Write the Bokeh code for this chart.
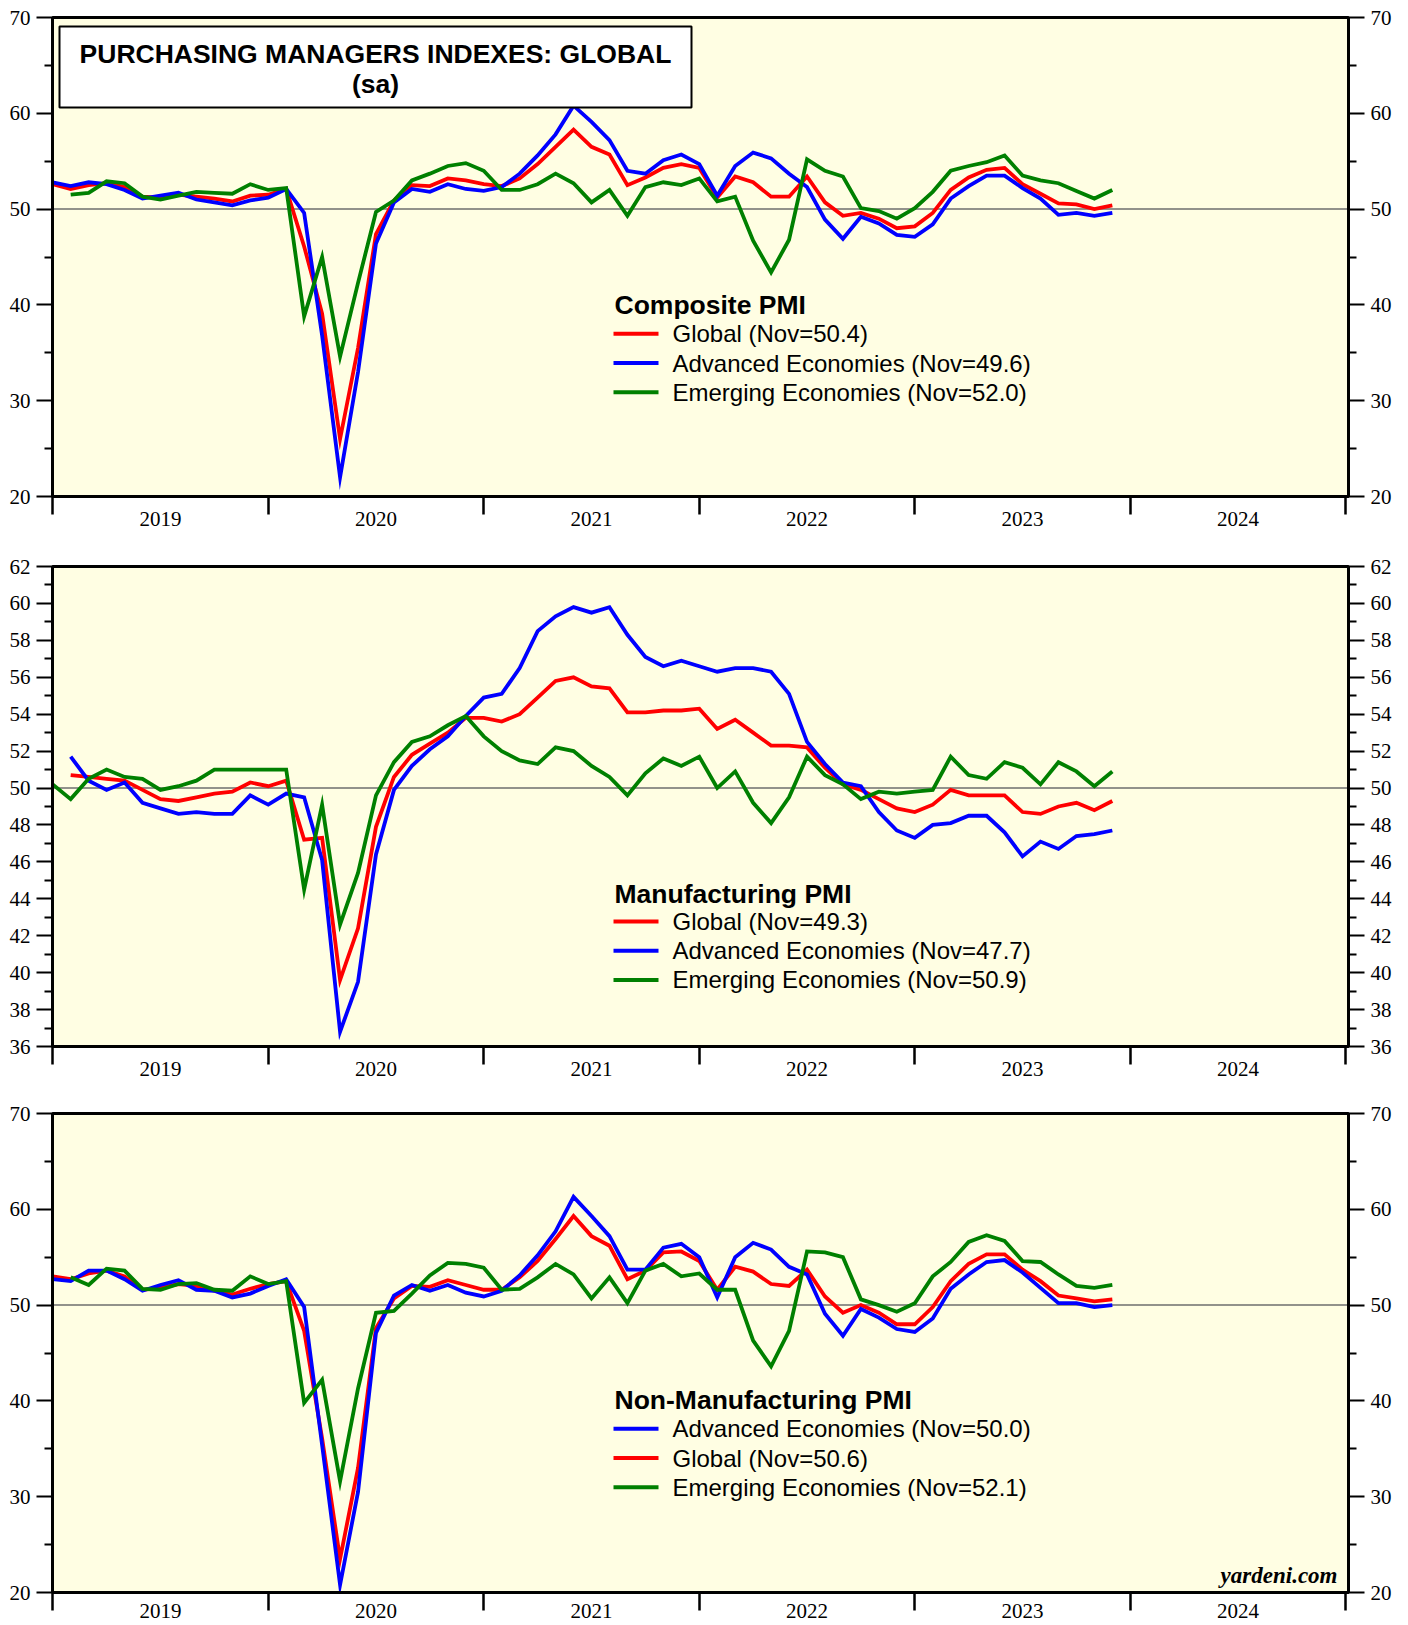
import numpy as np
import pandas as pd
from bokeh.plotting import figure
from bokeh.models import (Range1d, LinearAxis, FixedTicker, Span, Label,
                          BoxAnnotation)
from bokeh.layouts import column
from bokeh.embed import file_html
from bokeh.resources import INLINE

# ---------------- data ----------------
months = pd.period_range("2018-12", "2023-11", freq="M")
x_months = [m.year + m.month / 12.0 for m in months]   # month-end, decimal years

N = None
comp_global = [52.6, 52.1, 52.5, 52.7, 52.3, 51.3, 51.2, 51.5, 51.3, 51.1, 50.8, 51.4,
               51.5, 52.1, 46.1, 39.1, 26.0, 35.5, 47.4, 50.9, 52.5, 52.4, 53.2, 53.0,
               52.6, 52.4, 53.2, 54.7, 56.5, 58.3, 56.5, 55.7, 52.5, 53.3, 54.3, 54.7,
               54.3, 51.2, 53.4, 52.8, 51.3, 51.3, 53.4, 50.7, 49.3, 49.6, 49.0, 48.0,
               48.2, 49.6, 52.0, 53.3, 54.1, 54.3, 52.6, 51.6, 50.6, 50.5, 50.0, 50.4]
comp_adv = [52.8, 52.4, 52.8, 52.6, 52.0, 51.1, 51.4, 51.7, 51.0, 50.7, 50.4, 50.9,
            51.2, 52.1, 49.6, 36.8, 22.0, 33.0, 46.4, 50.7, 52.1, 51.8, 52.6, 52.1,
            51.9, 52.3, 53.7, 55.6, 57.8, 60.8, 59.1, 57.2, 54.0, 53.7, 55.1, 55.7,
            54.7, 51.4, 54.5, 55.9, 55.3, 53.7, 52.3, 48.9, 46.9, 49.2, 48.5, 47.3,
            47.1, 48.4, 51.1, 52.4, 53.5, 53.5, 52.2, 51.1, 49.4, 49.6, 49.3, 49.6]
comp_emg = [N, 51.5, 51.7, 52.9, 52.7, 51.3, 51.0, 51.4, 51.8, 51.7, 51.6, 52.6,
            52.0, 52.2, 38.8, 45.0, 34.6, 42.3, 49.7, 50.9, 53.0, 53.7, 54.5, 54.8,
            54.0, 52.0, 52.0, 52.6, 53.7, 52.7, 50.7, 52.0, 49.3, 52.3, 52.8, 52.5,
            53.2, 50.8, 51.3, 46.7, 43.4, 46.8, 55.2, 54.0, 53.4, 50.1, 49.8, 49.0,
            50.1, 51.8, 54.0, 54.5, 54.9, 55.6, 53.5, 53.0, 52.7, 51.9, 51.1, 52.0]

mfg_global = [N, 50.7, 50.6, 50.5, 50.4, 49.9, 49.4, 49.3, 49.5, 49.7, 49.8, 50.3,
              50.1, 50.4, 47.2, 47.3, 39.6, 42.4, 47.9, 50.6, 51.8, 52.4, 53.0, 53.8,
              53.8, 53.6, 54.0, 54.9, 55.8, 56.0, 55.5, 55.4, 54.1, 54.1, 54.2, 54.2,
              54.3, 53.2, 53.7, 53.0, 52.3, 52.3, 52.2, 51.1, 50.2, 49.9, 49.4, 48.9,
              48.7, 49.1, 49.9, 49.6, 49.6, 49.6, 48.7, 48.6, 49.0, 49.2, 48.8, 49.3]
mfg_adv = [N, 51.7, 50.4, 49.9, 50.3, 49.2, 48.9, 48.6, 48.7, 48.6, 48.6, 49.6,
           49.1, 49.7, 49.5, 46.1, 36.8, 39.5, 46.4, 49.9, 51.2, 52.1, 52.8, 53.9,
           54.9, 55.1, 56.5, 58.5, 59.3, 59.8, 59.5, 59.8, 58.3, 57.1, 56.6, 56.9,
           56.6, 56.3, 56.5, 56.5, 56.3, 55.1, 52.5, 51.3, 50.3, 50.1, 48.7, 47.7,
           47.3, 48.0, 48.1, 48.5, 48.5, 47.6, 46.3, 47.1, 46.7, 47.4, 47.5, 47.7]
mfg_emg = [50.2, 49.4, 50.5, 51.0, 50.6, 50.5, 49.9, 50.1, 50.4, 51.0, 51.0, 51.0,
           51.0, 51.0, 44.5, 49.1, 42.6, 45.4, 49.6, 51.4, 52.5, 52.8, 53.4, 53.9,
           52.8, 52.0, 51.5, 51.3, 52.2, 52.0, 51.2, 50.6, 49.6, 50.8, 51.6, 51.2,
           51.7, 50.0, 50.9, 49.2, 48.1, 49.5, 51.7, 50.7, 50.2, 49.4, 49.8, 49.7,
           49.8, 49.9, 51.7, 50.7, 50.5, 51.4, 51.1, 50.2, 51.4, 50.9, 50.1, 50.9]

nm_global = [53.0, 52.7, 53.3, 53.6, 53.0, 51.6, 51.8, 52.2, 52.0, 51.5, 51.1, 51.7,
             52.2, 52.5, 47.3, 36.1, 23.5, 33.0, 47.6, 50.7, 52.0, 51.9, 52.6, 52.1,
             51.6, 51.6, 52.9, 54.6, 56.9, 59.3, 57.2, 56.2, 52.7, 53.6, 55.5, 55.6,
             54.6, 51.6, 54.0, 53.5, 52.2, 52.0, 53.7, 50.9, 49.2, 50.0, 49.2, 48.0,
             48.0, 49.8, 52.5, 54.3, 55.3, 55.3, 53.7, 52.5, 51.0, 50.7, 50.4, 50.6]
nm_adv = [52.7, 52.5, 53.6, 53.6, 52.7, 51.5, 52.1, 52.6, 51.6, 51.5, 50.8, 51.2,
          52.0, 52.7, 49.8, 35.4, 20.8, 30.5, 47.1, 51.0, 52.1, 51.5, 52.1, 51.3,
          50.9, 51.5, 53.1, 55.2, 57.7, 61.3, 59.3, 57.2, 53.7, 53.7, 56.0, 56.4,
          55.0, 50.8, 55.0, 56.5, 55.8, 54.0, 53.2, 49.1, 46.8, 49.6, 48.7, 47.5,
          47.2, 48.6, 51.7, 53.2, 54.5, 54.7, 53.4, 51.8, 50.2, 50.2, 49.8, 50.0]
nm_emg = [N, 52.9, 52.1, 53.8, 53.6, 51.7, 51.6, 52.2, 52.3, 51.6, 51.5, 53.0,
          52.2, 52.5, 39.8, 42.2, 31.6, 41.3, 49.2, 49.4, 51.2, 53.1, 54.4, 54.3,
          53.9, 51.6, 51.7, 52.9, 54.3, 53.2, 50.7, 52.9, 50.2, 53.6, 54.3, 53.0,
          53.3, 51.6, 51.6, 46.3, 43.6, 47.3, 55.6, 55.5, 55.0, 50.6, 50.0, 49.3,
          50.2, 53.0, 54.5, 56.6, 57.3, 56.7, 54.6, 54.5, 53.2, 52.0, 51.8, 52.1]

year_ticks = [2019, 2020, 2021, 2022, 2023, 2024, 2025]
year_labels = ["2019", "2020", "2021", "2022", "2023", "2024"]
y_major_50 = [20, 30, 40, 50, 60, 70]
y_minor_50 = [25, 35, 45, 55, 65]
y_major_mfg = [36, 38, 40, 42, 44, 46, 48, 50, 52, 54, 56, 58, 60, 62]
y_minor_mfg = [37, 39, 41, 43, 45, 47, 49, 51, 53, 55, 57, 59, 61]

TITLE_1 = "PURCHASING MANAGERS INDEXES: GLOBAL"
TITLE_2 = "(sa)"

# ---------------- style ----------------
RED, BLUE, GREEN = "#FF0000", "#0000FF", "#008000"
BG = "#FFFEE3"
SERIF = "Liberation Serif"
SANS = "Liberation Sans"
X0, X1 = 2018.999, 2025.0125
FIG_W = 1400


def make_panel(height, b_top, b_bottom, y_lo, y_hi, major, minor, x_standoff=-3):
    p = figure(width=FIG_W, height=height, x_range=Range1d(X0, X1),
               y_range=Range1d(y_lo, y_hi), output_backend="svg",
               toolbar_location=None, title=None,
               min_border_left=52, min_border_right=52,
               min_border_top=b_top, min_border_bottom=b_bottom,
               background_fill_color=BG, border_fill_color="white",
               outline_line_color="black", outline_line_width=3)
    p.xgrid.visible = False
    p.ygrid.visible = False

    # x axis: labels centred in each year, year boundaries as (long) minor ticks
    mid_years = [y + 0.5 for y in year_ticks[:-1]]
    xa = p.xaxis[0]
    xa.ticker = FixedTicker(ticks=mid_years, minor_ticks=year_ticks)
    xa.major_label_overrides = {m: lab for m, lab in zip(mid_years, year_labels)}
    xa.major_tick_out = 0
    xa.major_tick_in = 0
    xa.major_tick_line_color = None
    xa.minor_tick_out = 18
    xa.minor_tick_in = 0
    xa.minor_tick_line_width = 2.5
    xa.minor_tick_line_color = "black"
    xa.major_label_standoff = x_standoff
    xa.major_label_text_font = SERIF
    xa.major_label_text_font_size = "21px"
    xa.major_label_text_color = "black"
    xa.axis_line_width = 3
    xa.axis_line_color = "black"

    ra = LinearAxis()
    p.add_layout(ra, "right")
    for ax in (p.yaxis[0], ra):
        ax.ticker = FixedTicker(ticks=major, minor_ticks=minor)
        ax.major_tick_out = 16
        ax.major_tick_in = 0
        ax.major_tick_line_width = 2
        ax.major_tick_line_color = "black"
        ax.minor_tick_out = 8
        ax.minor_tick_in = 0
        ax.minor_tick_line_width = 2
        ax.minor_tick_line_color = "black"
        ax.major_label_standoff = 6
        ax.major_label_text_font = SERIF
        ax.major_label_text_font_size = "21px"
        ax.major_label_text_color = "black"
        ax.axis_line_width = 3
        ax.axis_line_color = "black"

    p.add_layout(Span(location=50, dimension="width", line_color="#6E6E6E",
                      line_width=1.5, level="underlay"))
    return p


def add_series(p, series):
    for vals, col in series:
        p.line(x_months, np.array(vals, dtype=float), line_color=col, line_width=3.8,
               line_join="miter")


def add_legend(p, title, entries, title_mid, first_row):
    p.add_layout(Label(x=562, y=title_mid, x_units="screen", y_units="screen",
                       text=title, text_font=SANS, text_font_style="bold",
                       text_font_size="26.5px", text_baseline="middle",
                       text_align="left", text_color="black"))
    for k, (txt, col) in enumerate(entries):
        yc = first_row - 29.2 * k
        p.add_layout(BoxAnnotation(left=561, right=606, top=yc + 2, bottom=yc - 2,
                                   left_units="screen", right_units="screen",
                                   top_units="screen", bottom_units="screen",
                                   fill_color=col, fill_alpha=1.0, line_color=None))
        p.add_layout(Label(x=620, y=yc, x_units="screen", y_units="screen",
                           text=txt, text_font=SANS, text_font_size="24px",
                           text_baseline="middle", text_align="left",
                           text_color="black"))


def nov(vals):
    return f"(Nov={vals[-1]:.1f})"


# ---------- panel 1: composite ----------
p1 = make_panel(541, 17, 45, 20, 70, y_major_50, y_minor_50)
add_series(p1, [(comp_global, RED), (comp_adv, BLUE), (comp_emg, GREEN)])
p1.add_layout(BoxAnnotation(left=7, right=639, top=470, bottom=389,
                            left_units="screen", right_units="screen",
                            top_units="screen", bottom_units="screen",
                            fill_color="white", fill_alpha=1.0,
                            line_color="black", line_alpha=1.0, line_width=2))
p1.add_layout(Label(x=323, y=442.7, x_units="screen", y_units="screen", text=TITLE_1,
                    text_font=SANS, text_font_style="bold", text_font_size="26.5px",
                    text_align="center", text_baseline="middle", text_color="black"))
p1.add_layout(Label(x=323, y=413, x_units="screen", y_units="screen", text=TITLE_2,
                    text_font=SANS, text_font_style="bold", text_font_size="26.5px",
                    text_align="center", text_baseline="middle", text_color="black"))
add_legend(p1, "Composite PMI",
           [(f"Global {nov(comp_global)}", RED),
            (f"Advanced Economies {nov(comp_adv)}", BLUE),
            (f"Emerging Economies {nov(comp_emg)}", GREEN)], 191.3, 162.7)

# ---------- panel 2: manufacturing ----------
p2 = make_panel(547, 25, 42, 36, 62, y_major_mfg, y_minor_mfg)
add_series(p2, [(mfg_global, RED), (mfg_adv, BLUE), (mfg_emg, GREEN)])
add_legend(p2, "Manufacturing PMI",
           [(f"Global {nov(mfg_global)}", RED),
            (f"Advanced Economies {nov(mfg_adv)}", BLUE),
            (f"Emerging Economies {nov(mfg_emg)}", GREEN)], 153, 125)

# ---------- panel 3: non-manufacturing ----------
p3 = make_panel(536, 25, 32, 20, 70, y_major_50, y_minor_50, x_standoff=-7)
add_series(p3, [(nm_global, RED), (nm_adv, BLUE), (nm_emg, GREEN)])
add_legend(p3, "Non-Manufacturing PMI",
           [(f"Advanced Economies {nov(nm_adv)}", BLUE),
            (f"Global {nov(nm_global)}", RED),
            (f"Emerging Economies {nov(nm_emg)}", GREEN)], 192.3, 163.7)
p3.add_layout(Label(x=1285, y=17, x_units="screen", y_units="screen", text="yardeni.com",
                    text_font=SERIF, text_font_style="bold italic", text_font_size="23px",
                    text_align="right", text_baseline="middle", text_color="black"))

layout = column(p1, p2, p3)
open("out.html", "w").write(file_html(layout, INLINE))
